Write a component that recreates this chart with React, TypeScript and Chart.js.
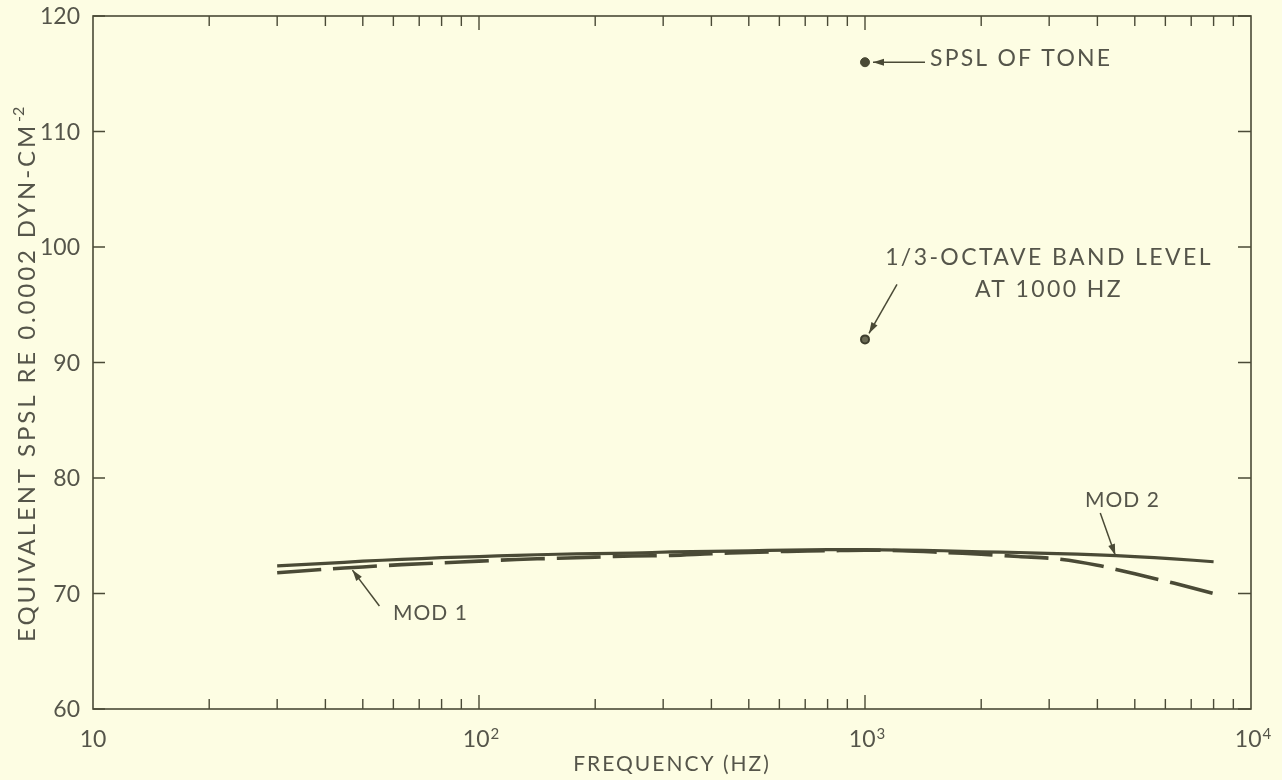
import React, { useEffect, useRef } from "react";
import { Chart, registerables } from "chart.js";

Chart.register(...registerables);

// ---------- data ----------
const frequencies = [30, 40, 50, 63, 80, 100, 125, 160, 200, 250, 315, 400, 500, 630, 800, 1000, 1250, 1600, 2000, 2500, 3150, 4000, 5000, 6300, 8000];
const mod2Values = [72.4, 72.6, 72.8, 72.95, 73.1, 73.2, 73.3, 73.4, 73.45, 73.5, 73.6, 73.65, 73.7, 73.75, 73.8, 73.8, 73.75, 73.7, 73.6, 73.55, 73.45, 73.35, 73.2, 73.0, 72.75];
const mod1Values = [71.8, 72.1, 72.3, 72.5, 72.65, 72.8, 72.95, 73.05, 73.15, 73.25, 73.3, 73.45, 73.55, 73.65, 73.7, 73.75, 73.7, 73.55, 73.4, 73.2, 73.0, 72.45, 71.7, 70.9, 70.0];
const toneFrequency = [1000];
const toneLevel = [116];
const bandLevel = [92];

const xTickValues = [10, 100, 1000, 10000];
const xTickBase = ["10", "10", "10", "10"];
const xTickExponent = ["", "2", "3", "4"];
const yTickValues = [60, 70, 80, 90, 100, 110, 120];
const yTickLabels = ["60", "70", "80", "90", "100", "110", "120"];

const xTitle = "FREQUENCY (HZ)";
const yTitle = "EQUIVALENT SPSL RE 0.0002 DYN-CM";
const yTitleSup = "-2";
const toneNote = "SPSL OF TONE";
const bandNoteLines = ["1/3-OCTAVE BAND LEVEL", "AT 1000 HZ"];
const mod1Label = "MOD 1";
const mod2Label = "MOD 2";

// ---------- style ----------
const BG = "#fdfde3";
const INK = "#4a4a36";
const TEXT = "#55554a";
const FONT = "Lato, 'Open Sans', sans-serif";

function arrow(ctx: CanvasRenderingContext2D, x1: number, y1: number, x2: number, y2: number) {
  ctx.beginPath();
  ctx.moveTo(x1, y1);
  ctx.lineTo(x2, y2);
  ctx.stroke();
  const a = Math.atan2(y2 - y1, x2 - x1);
  const L = 11, W = 3.5;
  ctx.beginPath();
  ctx.moveTo(x2, y2);
  ctx.lineTo(x2 - L * Math.cos(a) + W * Math.sin(a), y2 - L * Math.sin(a) - W * Math.cos(a));
  ctx.lineTo(x2 - L * Math.cos(a) - W * Math.sin(a), y2 - L * Math.sin(a) + W * Math.cos(a));
  ctx.closePath();
  ctx.fill();
}

function spaced(ctx: any, px: number) {
  ctx.letterSpacing = px + "px";
}

const framePlugin = {
  id: "frame",
  beforeDraw(chart: any) {
    const ctx = chart.ctx;
    ctx.save();
    ctx.fillStyle = BG;
    ctx.fillRect(0, 0, chart.width, chart.height);
    ctx.restore();
  },
  afterDraw(chart: any) {
    const ctx: CanvasRenderingContext2D = chart.ctx;
    const { left, right, top, bottom } = chart.chartArea;
    const xs = chart.scales.x;
    const ys = chart.scales.y;
    ctx.save();
    ctx.strokeStyle = INK;
    ctx.fillStyle = INK;
    ctx.lineWidth = 1.6;
    ctx.strokeRect(left, top, right - left, bottom - top);

    // x ticks (inward, top and bottom)
    ctx.lineWidth = 1.4;
    for (let d = 10; d < 10000; d *= 10) {
      for (let m = 1; m <= 9; m++) {
        const v = d * m;
        if (v <= 10) continue;
        const px = xs.getPixelForValue(v);
        const len = m === 1 ? 14 : 10;
        ctx.beginPath();
        ctx.moveTo(px, bottom);
        ctx.lineTo(px, bottom - len);
        ctx.moveTo(px, top);
        ctx.lineTo(px, top + len);
        ctx.stroke();
      }
    }
    // y ticks
    yTickValues.forEach((v) => {
      const py = ys.getPixelForValue(v);
      ctx.beginPath();
      ctx.moveTo(left, py);
      ctx.lineTo(left + 12, py);
      ctx.moveTo(right, py);
      ctx.lineTo(right - 13, py);
      ctx.stroke();
    });

    // tick labels
    ctx.fillStyle = TEXT;
    ctx.font = `23px ${FONT}`;
    ctx.textAlign = "right";
    ctx.textBaseline = "middle";
    yTickValues.forEach((v, i) => {
      ctx.fillText(yTickLabels[i], left - 13, ys.getPixelForValue(v) + 1);
    });
    xTickValues.forEach((v, i) => {
      const px = xs.getPixelForValue(v);
      ctx.font = `23px ${FONT}`;
      const wb = ctx.measureText(xTickBase[i]).width;
      ctx.font = `15px ${FONT}`;
      const we = xTickExponent[i] ? ctx.measureText(xTickExponent[i]).width + 1 : 0;
      const start = xTickExponent[i] ? px - (wb + we) / 2 + 2 : px - wb / 2;
      ctx.textAlign = "left";
      ctx.textBaseline = "alphabetic";
      ctx.font = `23px ${FONT}`;
      ctx.fillText(xTickBase[i], start, 747);
      if (xTickExponent[i]) {
        ctx.font = `15px ${FONT}`;
        ctx.fillText(xTickExponent[i], start + wb + 1, 739);
      }
    });

    // axis titles
    ctx.font = `21px ${FONT}`;
    spaced(ctx, 2);
    ctx.textAlign = "left";
    ctx.textBaseline = "alphabetic";
    const xtw = ctx.measureText(xTitle).width;
    ctx.fillText(xTitle, 672 - xtw / 2, 771);

    ctx.save();
    ctx.translate(35, 0);
    ctx.rotate(-Math.PI / 2);
    ctx.font = `24px ${FONT}`;
    spaced(ctx, 2.9);
    ctx.textAlign = "left";
    const tw = ctx.measureText(yTitle).width;
    ctx.fillText(yTitle, -642, 0);
    ctx.font = `16px ${FONT}`;
    spaced(ctx, 0);
    ctx.fillText(yTitleSup, -642 + tw + 1, -11);
    ctx.restore();

    // annotations
    const tx = xs.getPixelForValue(toneFrequency[0]);
    const ty = ys.getPixelForValue(toneLevel[0]);
    const by = ys.getPixelForValue(bandLevel[0]);
    spaced(ctx, 0);
    ctx.lineWidth = 1.5;
    ctx.strokeStyle = INK;
    ctx.fillStyle = INK;
    arrow(ctx, tx + 60, ty, tx + 8, ty);
    ctx.fillStyle = TEXT;
    ctx.font = `23px ${FONT}`;
    spaced(ctx, 2.2);
    ctx.textAlign = "left";
    ctx.textBaseline = "middle";
    ctx.fillText(toneNote, tx + 65, ty - 4);

    spaced(ctx, 0);
    ctx.fillStyle = INK;
    arrow(ctx, tx + 32, by - 55, tx + 4, by - 6);
    ctx.fillStyle = TEXT;
    ctx.font = `23px ${FONT}`;
    spaced(ctx, 2.4);
    ctx.textAlign = "left";
    const b0 = ctx.measureText(bandNoteLines[0]).width;
    const b1 = ctx.measureText(bandNoteLines[1]).width;
    ctx.fillText(bandNoteLines[0], 1049 - b0 / 2, 258);
    ctx.fillText(bandNoteLines[1], 1049 - b1 / 2, 290);

    // MOD labels
    ctx.font = `21px ${FONT}`;
    spaced(ctx, 1);
    ctx.fillText(mod2Label, 1085, 500);
    ctx.fillText(mod1Label, 393, 613);
    spaced(ctx, 0);
    ctx.fillStyle = INK;
    const m2x = xs.getPixelForValue(4450);
    arrow(ctx, m2x - 15, 513, m2x, ys.getPixelForValue(73.32));
    const m1x = xs.getPixelForValue(47);
    arrow(ctx, m1x + 27, 606, m1x, ys.getPixelForValue(72.2) + 2);
    ctx.restore();
  },
};

export default function App() {
  const ref = useRef<HTMLCanvasElement | null>(null);
  useEffect(() => {
    if (!ref.current) return;
    const chart = new Chart(ref.current, {
      type: "line",
      data: {
        datasets: [
          {
            label: "MOD 2",
            data: frequencies.map((f, i) => ({ x: f, y: mod2Values[i] })),
            borderColor: INK,
            borderWidth: 3.2,
            pointRadius: 0,
            tension: 0.3,
            fill: false,
          },
          {
            label: "MOD 1",
            data: frequencies.map((f, i) => ({ x: f, y: mod1Values[i] })),
            borderColor: INK,
            borderWidth: 3.6,
            borderDash: [44, 12],
            pointRadius: 0,
            tension: 0.3,
            fill: false,
          },
          {
            label: "SPSL of tone",
            type: "scatter",
            data: toneFrequency.map((f, i) => ({ x: f, y: toneLevel[i] })),
            backgroundColor: INK,
            borderColor: INK,
            pointRadius: 4.5,
          },
          {
            label: "1/3-octave band level",
            type: "scatter",
            data: toneFrequency.map((f, i) => ({ x: f, y: bandLevel[i] })),
            backgroundColor: "#6b6b55",
            borderColor: "#3e3e2e",
            borderWidth: 2,
            pointRadius: 4,
          },
        ] as any,
      },
      options: {
        animation: false,
        responsive: false,
        maintainAspectRatio: false,
        layout: { padding: { left: 93, right: 31, top: 16, bottom: 71 } },
        plugins: { legend: { display: false }, tooltip: { enabled: false } },
        scales: {
          x: {
            type: "logarithmic",
            min: 10,
            max: 10000,
            display: false,
          },
          y: {
            type: "linear",
            min: 60,
            max: 120,
            display: false,
          },
        },
      },
      plugins: [framePlugin],
    });
    return () => chart.destroy();
  }, []);
  return (
    <div style={{ position: "fixed", left: 0, top: 0, width: 1282, height: 780, background: BG }}>
      <canvas ref={ref} width={1282} height={780} style={{ width: 1282, height: 780, display: "block" }} />
    </div>
  );
}
